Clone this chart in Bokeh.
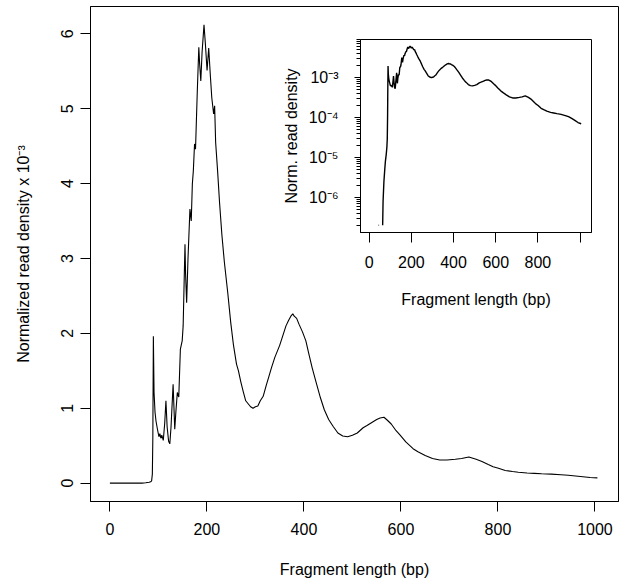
import numpy as np
from bokeh.plotting import figure
from bokeh.models import Range1d, FixedTicker
from bokeh.layouts import column
from bokeh.embed import file_html
from bokeh.resources import INLINE

# Fragment length (bp) and normalized read density (x 10^-3)
frag_len = [0, 44, 45, 47, 48, 63, 64, 66, 70, 74, 77, 81, 84, 86, 87.5, 88.5, 89.6,
            91, 93, 95, 98, 101, 103, 105, 107, 110, 113, 115.5, 118, 121, 123.5, 126,
            130.3, 133.7, 136, 139, 142, 145.3, 149, 151, 154.8, 156, 158.2, 161, 165,
            167.7, 170, 172, 174.5, 176.5, 180, 183.3, 185, 187.4, 190, 194, 197, 200.3,
            203.7, 207, 210, 213.8, 215.9, 218, 222, 226, 230.8, 236, 243, 249, 254.6,
            261, 265, 270, 275, 280, 285, 290, 295, 300, 305, 310, 316, 322, 328, 333,
            340, 345, 350, 357, 363, 368, 373, 377, 380, 385, 390, 397, 404, 410, 417,
            425, 434, 442, 451, 460, 470, 480, 490, 500, 510, 522, 530, 540, 550, 557,
            565, 572, 580, 590, 597, 610, 625, 635, 650, 665, 680, 695, 712, 725, 740,
            755, 767, 780, 790, 801, 815, 830, 842, 860, 875, 890, 910, 930, 945, 960,
            975, 990, 1005]
density = [0, 0, 0.0002, 0.0002, 0, 0, 0.0002, 0.0008, 0.0025, 0.005, 0.008, 0.012,
           0.018, 0.03, 0.12, 0.6, 1.96,
           1.21, 0.95, 0.83, 0.72, 0.62, 0.66, 0.60, 0.64, 0.57, 0.80, 1.10, 0.75, 0.56,
           0.525, 0.75,
           1.32, 0.72, 0.95, 1.21, 1.15, 1.79, 1.90, 2.10, 3.19, 2.80, 2.41, 3.00, 3.66,
           3.50, 4.00, 4.17, 4.53, 4.46, 5.20, 5.82, 5.60, 5.37, 5.75, 6.12, 5.85, 5.51,
           5.81, 5.45, 5.15, 4.93, 5.04, 4.55, 4.17, 3.75, 3.32, 2.95, 2.54, 2.15, 1.85,
           1.59, 1.50, 1.35, 1.22, 1.10, 1.06, 1.02, 1.00, 1.02, 1.03, 1.10, 1.16, 1.30,
           1.43, 1.54,
           1.68, 1.76, 1.84, 1.98, 2.10, 2.17, 2.23, 2.26, 2.23, 2.20, 2.12, 2.02, 1.90,
           1.73, 1.54,
           1.35, 1.14, 0.98, 0.85, 0.76, 0.67, 0.63, 0.62, 0.64, 0.67, 0.74, 0.77, 0.81,
           0.85, 0.87,
           0.88, 0.84, 0.79, 0.70, 0.65, 0.55, 0.46, 0.42, 0.37, 0.33, 0.31, 0.31, 0.32,
           0.33, 0.35,
           0.32, 0.29, 0.25, 0.22, 0.20, 0.17, 0.155, 0.145, 0.135, 0.13, 0.125, 0.12,
           0.112, 0.105, 0.095,
           0.085, 0.075, 0.07]

x_ticks = [0, 200, 400, 600, 800, 1000]
y_ticks = [0, 1, 2, 3, 4, 5, 6]
inset_x_ticks = [0, 200, 400, 600, 800, 1000]
inset_x_labels = ["0", "200", "400", "600", "800", ""]
inset_y_ticks = [1e-6, 1e-5, 1e-4, 1e-3]
inset_y_labels = ["10\u207b\u2076", "10\u207b\u2075", "10\u207b\u2074", "10\u207b\u00b3"]

FONT = "Liberation Sans"
FS = "16px"

x = np.array(frag_len, dtype=float)
y = np.array(density, dtype=float)


def style_axis(ax):
    ax.major_label_text_font = FONT
    ax.major_label_text_font_size = FS
    ax.major_label_text_color = "black"
    ax.axis_label_text_font = FONT
    ax.axis_label_text_font_size = FS
    ax.axis_label_text_font_style = "normal"
    ax.axis_label_text_color = "black"
    ax.axis_line_color = "black"
    ax.major_tick_line_color = "black"
    ax.major_tick_in = 0


# ---------------- main plot ----------------
p = figure(width=638, height=585, output_backend="svg", toolbar_location=None,
           x_range=Range1d(-40, 1048.5), y_range=Range1d(-0.245, 6.365),
           min_border_left=90, min_border_right=14, min_border_top=6,
           min_border_bottom=84)
p.line(x, y, line_color="black", line_width=1.1)
p.xgrid.visible = False
p.ygrid.visible = False
p.outline_line_color = "black"
p.outline_line_width = 1
p.background_fill_color = "white"
p.border_fill_color = "white"

style_axis(p.xaxis[0])
style_axis(p.yaxis[0])
p.xaxis.ticker = FixedTicker(ticks=x_ticks)
p.yaxis.ticker = FixedTicker(ticks=y_ticks)
p.xaxis.minor_tick_line_color = None
p.yaxis.minor_tick_line_color = None
p.xaxis.major_tick_out = 10
p.yaxis.major_tick_out = 10
p.xaxis.major_label_standoff = 11
p.xaxis.axis_label_standoff = 23
p.yaxis.major_label_orientation = "vertical"
p.yaxis.major_label_standoff = 7
p.yaxis.axis_label_standoff = 27
p.xaxis.axis_label = "Fragment length (bp)"
p.yaxis.axis_label = "Normalized read density x 10\u207b\u00b3"

# ---------------- inset (log scale) ----------------
y_log = np.where(y > 0, y * 1e-3, np.nan)
minor = [k * 10.0 ** e for e in range(-7, -2) for k in range(2, 10)]
minor = [m for m in minor if 1.321e-7 <= m <= 9.016e-3]

ins = figure(width=341, height=297, output_backend="svg", toolbar_location=None,
             x_range=Range1d(-41, 1054), y_range=Range1d(1.321e-7, 9.016e-3),
             y_axis_type="log",
             min_border_left=88, min_border_right=20, min_border_top=19,
             min_border_bottom=85)
ins.line(x, y_log, line_color="black", line_width=1.4)
ins.xgrid.visible = False
ins.ygrid.visible = False
ins.outline_line_color = "black"
ins.outline_line_width = 1
ins.background_fill_color = None
ins.border_fill_color = None
ins.margin = (-565, 0, 268, 270)

style_axis(ins.xaxis[0])
style_axis(ins.yaxis[0])
ins.xaxis.ticker = FixedTicker(ticks=inset_x_ticks)
ins.xaxis.major_label_overrides = dict(zip(inset_x_ticks, inset_x_labels))
ins.xaxis.minor_tick_line_color = None
ins.xaxis.major_tick_out = 10
ins.xaxis.major_label_standoff = 13
ins.xaxis.axis_label_standoff = 20
ins.xaxis.axis_label = "Fragment length (bp)"

ins.yaxis.ticker = FixedTicker(ticks=inset_y_ticks, minor_ticks=minor)
ins.yaxis.major_label_overrides = dict(zip(inset_y_ticks, inset_y_labels))
ins.yaxis.major_tick_out = 6
ins.yaxis.minor_tick_out = 4
ins.yaxis.minor_tick_in = 0
ins.yaxis.minor_tick_line_color = "black"
ins.yaxis.major_label_standoff = 16
ins.yaxis.axis_label_standoff = 6
ins.yaxis.axis_label = "Norm. read density"

layout = column(p, ins)
open("out.html", "w").write(file_html(layout, INLINE))
